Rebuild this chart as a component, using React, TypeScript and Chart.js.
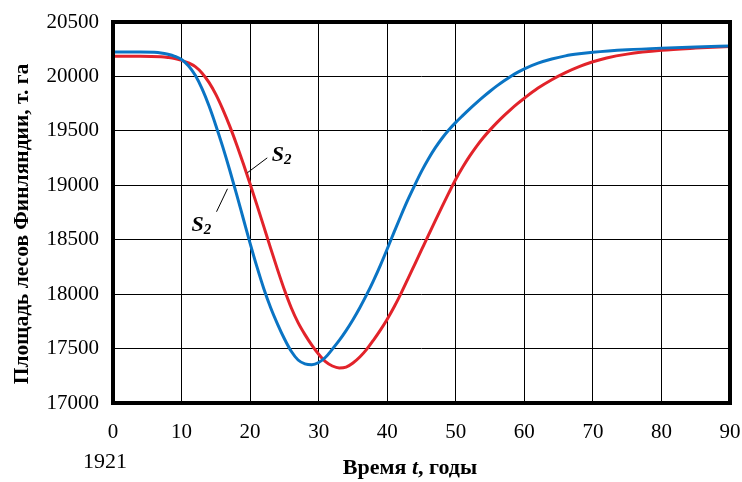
import React, { useEffect, useRef } from "react";
import { Chart, registerables } from "chart.js";

Chart.register(...registerables);

// Years since 1921 and forest area (thousand ha)
const T_BLUE = [0, 4, 6, 7, 8, 9, 10, 11, 12, 13, 14, 15, 16, 17, 18, 19, 20, 21, 22, 23, 24, 25, 26, 27, 28, 29, 30, 31, 32, 33, 34, 35, 36, 37, 38, 39, 40, 41, 42, 43, 44, 45, 46, 47, 48, 49, 50, 51, 52, 53, 54, 55, 56, 57, 58, 59, 60, 62, 64, 66, 68, 70, 75, 80, 85, 90];
const V_BLUE = [20225, 20225, 20221, 20215, 20203, 20185, 20155, 20098, 20010, 19885, 19730, 19550, 19355, 19145, 18923, 18695, 18467, 18250, 18050, 17875, 17725, 17590, 17475, 17395, 17360, 17352, 17372, 17420, 17495, 17575, 17665, 17765, 17875, 17995, 18125, 18265, 18415, 18570, 18720, 18865, 19000, 19128, 19242, 19343, 19432, 19510, 19578, 19640, 19700, 19757, 19812, 19864, 19913, 19958, 20000, 20037, 20070, 20122, 20160, 20189, 20208, 20222, 20245, 20260, 20271, 20280];

const T_RED = [0, 4, 7, 8, 9, 10, 11, 12, 13, 14, 15, 16, 17, 18, 19, 20, 21, 22, 23, 24, 25, 26, 27, 28, 29, 30, 31, 32, 33, 34, 35, 36, 37, 38, 39, 40, 41, 42, 43, 44, 45, 46, 47, 48, 49, 50, 51, 52, 53, 54, 55, 56, 57, 58, 59, 60, 62, 64, 66, 68, 70, 72, 75, 80, 85, 90];
const V_RED = [20185, 20185, 20180, 20174, 20165, 20148, 20125, 20090, 20030, 19945, 19835, 19700, 19548, 19380, 19200, 19012, 18818, 18620, 18420, 18225, 18040, 17875, 17738, 17628, 17532, 17448, 17380, 17340, 17322, 17330, 17368, 17423, 17493, 17578, 17670, 17770, 17882, 18005, 18138, 18272, 18406, 18540, 18673, 18804, 18932, 19055, 19165, 19265, 19355, 19436, 19509, 19576, 19638, 19696, 19750, 19800, 19893, 19970, 20035, 20090, 20135, 20170, 20205, 20240, 20260, 20275];

const X_TICKS = [0, 10, 20, 30, 40, 50, 60, 70, 80, 90];
const Y_MIN = 17000;
const Y_MAX = 20500;
const Y_STEP = 500;

const Y_TITLE = "Площадь лесов Финляндии, т. га";
const X_TITLE_PARTS = ["Время ", "t", ", годы"];
const START_YEAR = "1921";
const LABEL_S = "S";
const LABEL_SUB = "2";

const SERIES_COLORS = ["#0a74c4", "#e2232a"];
const FONT = "'Liberation Serif'";

const textPlugin = {
  id: "textPlugin",
  afterDraw(chart: any) {
    const { ctx, chartArea, scales } = chart;
    const xs = scales.x;
    const ys = scales.y;
    ctx.save();
    // frame
    ctx.strokeStyle = "#000";
    ctx.lineWidth = 4;
    ctx.strokeRect(chartArea.left, chartArea.top, chartArea.right - chartArea.left, chartArea.bottom - chartArea.top);

    ctx.fillStyle = "#000";
    // y title
    ctx.save();
    ctx.translate(22, 224);
    ctx.rotate(-Math.PI / 2);
    ctx.font = `bold 21.5px ${FONT}`;
    ctx.textAlign = "center";
    ctx.textBaseline = "middle";
    ctx.fillText(Y_TITLE, 0, 0);
    ctx.restore();

    // start year
    ctx.font = `22px ${FONT}`;
    ctx.textAlign = "center";
    ctx.textBaseline = "middle";
    ctx.fillText(START_YEAR, 105, 462);

    // x title with italic t
    const fonts = [`bold 22px ${FONT}`, `bold italic 22px ${FONT}`, `bold 22px ${FONT}`];
    let total = 0;
    const widths = X_TITLE_PARTS.map((p, i) => {
      ctx.font = fonts[i];
      const w = ctx.measureText(p).width;
      total += w;
      return w;
    });
    let x = 410 - total / 2;
    ctx.textAlign = "left";
    X_TITLE_PARTS.forEach((p, i) => {
      ctx.font = fonts[i];
      ctx.fillText(p, x, 468);
      x += widths[i];
    });

    // S2 labels with leader lines
    const drawLabel = (t1: number, v1: number, t2: number, v2: number, tl: number, vl: number) => {
      ctx.strokeStyle = "#000";
      ctx.lineWidth = 1;
      ctx.beginPath();
      ctx.moveTo(xs.getPixelForValue(t1), ys.getPixelForValue(v1));
      ctx.lineTo(xs.getPixelForValue(t2), ys.getPixelForValue(v2));
      ctx.stroke();
      const px = xs.getPixelForValue(tl);
      const py = ys.getPixelForValue(vl);
      ctx.font = `bold italic 22px ${FONT}`;
      ctx.textAlign = "left";
      ctx.textBaseline = "alphabetic";
      const w = ctx.measureText(LABEL_S).width;
      ctx.fillText(LABEL_S, px - 10, py + 7);
      ctx.font = `bold italic 15px ${FONT}`;
      ctx.fillText(LABEL_SUB, px - 10 + w, py + 10);
    };
    drawLabel(19.6, 19115, 22.5, 19252, 24.6, 19289);
    drawLabel(16.7, 18968, 15.1, 18757, 12.9, 18647);
    ctx.restore();
  },
};

export default function App() {
  const ref = useRef<HTMLCanvasElement | null>(null);
  useEffect(() => {
    if (!ref.current) return;
    const chart = new Chart(ref.current, {
      type: "line",
      data: {
        datasets: [
          {
            label: "S2 blue",
            data: T_BLUE.map((t, i) => ({ x: t, y: V_BLUE[i] })),
            borderColor: SERIES_COLORS[0],
            borderWidth: 3,
            pointRadius: 0,
            cubicInterpolationMode: "monotone",
            fill: false,
          },
          {
            label: "S2 red",
            data: T_RED.map((t, i) => ({ x: t, y: V_RED[i] })),
            borderColor: SERIES_COLORS[1],
            borderWidth: 3,
            pointRadius: 0,
            cubicInterpolationMode: "monotone",
            fill: false,
          },
        ],
      },
      options: {
        animation: false,
        responsive: false,
        layout: { padding: { top: 22, right: 12, left: 0, bottom: 0 } },
        plugins: { legend: { display: false }, tooltip: { enabled: false } },
        scales: {
          x: {
            type: "linear",
            min: 0,
            max: 90,
            afterBuildTicks: (s: any) => {
              s.ticks = X_TICKS.map((v) => ({ value: v }));
            },
            afterFit: (s: any) => {
              s.height = 79;
              s.paddingLeft = 0;
              s.paddingRight = 0;
            },
            grid: { color: "#000", lineWidth: 1, drawTicks: false },
            border: { display: false },
            ticks: { color: "#000", font: { family: FONT, size: 21 }, padding: 17, maxRotation: 0 },
          },
          y: {
            type: "linear",
            min: Y_MIN,
            max: Y_MAX,
            ticks: {
              stepSize: Y_STEP,
              color: "#000",
              font: { family: FONT, size: 21 },
              padding: 14,
              callback: (v: any) => String(v),
            },
            afterFit: (s: any) => {
              s.width = 113;
              s.paddingTop = 0;
              s.paddingBottom = 0;
            },
            grid: { color: "#000", lineWidth: 1, drawTicks: false },
            border: { display: false },
          },
        },
      },
      plugins: [textPlugin],
    } as any);
    return () => chart.destroy();
  }, []);
  return (
    <div style={{ position: "fixed", left: 0, top: 0, width: 742, height: 482, background: "#fff" }}>
      <canvas ref={ref} width={742} height={482} style={{ width: 742, height: 482 }} />
    </div>
  );
}
